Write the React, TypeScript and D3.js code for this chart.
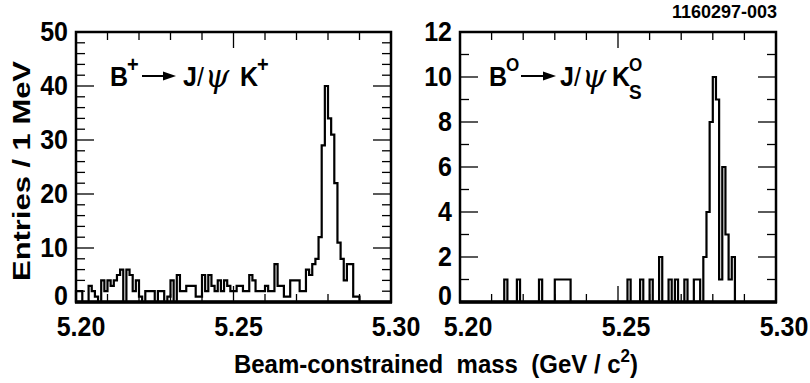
import * as d3 from "d3";

// 1 MeV bins from 5.200 to 5.300 GeV
const massRange = [5.2, 5.3];
const binWidth = 0.001;

// B+ -> J/psi K+ : entries per bin
const chargedCounts = [
  2, 2, 0, 0, 3, 2, 1, 0, 4, 2,
  4, 3, 4, 5, 6, 0, 6, 5, 2, 4,
  1, 0, 2, 2, 2, 0, 2, 2, 0, 1,
  4, 0, 5, 2, 2, 3, 3, 3, 1, 1,
  5, 2, 5, 3, 2, 4, 2, 4, 3, 2,
  2, 3, 3, 2, 2, 5, 4, 2, 2, 2,
  3, 2, 2, 7, 3, 3, 1, 1, 4, 4,
  4, 2, 2, 6, 5, 7, 8, 12, 29, 40,
  34, 31, 22, 11, 8, 4, 7, 7, 1, 1,
  0, 0, 0, 0, 0, 0, 0, 0, 0, 0,
];

// B0 -> J/psi K0S : entries per bin
const neutralCounts = [
  0, 0, 0, 0, 0, 0, 0, 0, 0, 0,
  0, 0, 0, 0, 1, 0, 0, 0, 1, 0,
  0, 0, 0, 0, 0, 1, 0, 0, 0, 0,
  1, 1, 1, 1, 1, 0, 0, 0, 0, 0,
  0, 0, 0, 0, 0, 0, 0, 0, 0, 0,
  0, 0, 0, 1, 0, 0, 0, 1, 0, 0,
  1, 0, 0, 2, 0, 0, 1, 0, 1, 0,
  0, 1, 0, 0, 1, 1, 0, 2, 4, 8,
  10, 9, 1, 6, 3, 1, 2, 0, 0, 0,
  0, 0, 0, 0, 0, 0, 0, 0, 0, 0,
];

const xTickLabels = ["5.20", "5.25", "5.30"];
const leftYTicks = [0, 10, 20, 30, 40, 50];
const rightYTicks = [0, 2, 4, 6, 8, 10, 12];

const FONT = "'Liberation Sans', Arial, Helvetica, sans-serif";

// bold text, slightly stretched vertically like the scanned original
function T({ x, y, size = 25, anchor = "start", sy = 1.1, children, ...rest }) {
  return (
    <text transform={`translate(${x},${y}) scale(1,${sy})`} textAnchor={anchor}
      fontFamily={FONT} fontWeight="bold" fontSize={size} {...rest}>{children}</text>
  );
}

function Panel({ counts, x0, x1, yMax, yMajor, yMinor, labelRight, labelShift }) {
  const top = 32;
  const bottom = 302;
  const x = d3.scaleLinear().domain(massRange).range([x0, x1]);
  const y = d3.scaleLinear().domain([0, yMax]).range([bottom, top]);

  // step outline of the histogram
  const pts = [[massRange[0], 0]];
  counts.forEach((c, i) => pts.push([massRange[0] + i * binWidth, c]));
  pts.push([massRange[1], 0]);
  const line = d3.line()
    .x(d => x(d[0]))
    .y(d => y(d[1]))
    .curve(d3.curveStepAfter);

  const xMinor = d3.range(0, 11).map(i => 5.2 + i * 0.01);
  const yTicks = d3.range(0, yMax + 0.001, yMinor);

  return (
    <g>
      <path d={line(pts)} fill="none" stroke="#000" strokeWidth={2.2} />
      {xMinor.map((t, i) => {
        const len = i % 5 === 0 ? 16 : 8;
        return (
          <g key={"xt" + i}>
            <line x1={x(t)} x2={x(t)} y1={bottom} y2={bottom - len} stroke="#000" strokeWidth={1.3} />
            <line x1={x(t)} x2={x(t)} y1={top} y2={top + len} stroke="#000" strokeWidth={1.3} />
          </g>
        );
      })}
      {yTicks.map((t, i) => {
        const major = Math.abs(t / yMajor - Math.round(t / yMajor)) < 1e-6;
        const len = major ? 18 : 9;
        return (
          <g key={"yt" + i}>
            <line x1={x0} x2={x0 + len} y1={y(t)} y2={y(t)} stroke="#000" strokeWidth={1.3} />
            <line x1={x1} x2={x1 - len} y1={y(t)} y2={y(t)} stroke="#000" strokeWidth={1.3} />
          </g>
        );
      })}
      <rect x={x0} y={top} width={x1 - x0} height={bottom - top} fill="none" stroke="#000" strokeWidth={2.5} />
      <line x1={x0 - 1} x2={x1 + 1} y1={bottom} y2={bottom} stroke="#000" strokeWidth={3.5} />
      {labelRight.map(t => (
        <T key={"yl" + t} x={x0 - 8} y={y(t) + (t === 0 ? 3 : 9)} anchor="end">{t}</T>
      ))}
      {xTickLabels.map(s => (
        <T key={"xl" + s} x={x(+s) + labelShift} y={336} anchor="middle">{s}</T>
      ))}
    </g>
  );
}

function Arrow({ xa, xb, yy }) {
  return (
    <g>
      <line x1={xa} x2={xb - 10} y1={yy} y2={yy} stroke="#000" strokeWidth={2} />
      <path d={`M${xb},${yy} L${xb - 13},${yy - 4.5} L${xb - 13},${yy + 4.5} Z`} fill="#000" />
    </g>
  );
}

export default function App() {
  const psi = { fontFamily: "'DejaVu Serif', 'Liberation Serif', serif", fontStyle: "italic" as const, fontSize: 31 };
  return (
    <svg width={810} height={383} style={{ position: "absolute", left: 0, top: 0, background: "#fff" }}>
      <rect width={810} height={383} fill="#fff" />
      <Panel counts={chargedCounts} x0={76} x1={391} yMax={50} yMajor={10} yMinor={2}
        labelRight={leftYTicks} labelShift={5} />
      <Panel counts={neutralCounts} x0={460} x1={776} yMax={12} yMajor={2} yMinor={1}
        labelRight={rightYTicks} labelShift={8} />

      {/* B+ -> J/psi K+ */}
      <T x={110} y={86} size={25}>B</T>
      <T x={127} y={72} size={20}>+</T>
      <Arrow xa={142} xb={176} yy={76} />
      <T x={183} y={86} size={25}>J</T>
      <text x={197} y={86} fontSize={25} fontFamily={FONT}>/</text>
      <text x={205} y={87} {...psi}>ψ</text>
      <T x={240} y={86} size={25}>K</T>
      <T x={257} y={72} size={20}>+</T>

      {/* B0 -> J/psi K0S */}
      <T x={489} y={86} size={25}>B</T>
      <T x={506} y={71} size={17}>O</T>
      <Arrow xa={521} xb={556} yy={76} />
      <T x={560} y={86} size={25}>J</T>
      <text x={574} y={86} fontSize={25} fontFamily={FONT}>/</text>
      <text x={582} y={87} {...psi}>ψ</text>
      <T x={612} y={86} size={25}>K</T>
      <T x={629} y={71} size={17}>O</T>
      <T x={629} y={99} size={19}>S</T>

      <T x={777} y={18} size={18} anchor="end" sy={1}>1160297-003</T>

      <text transform="translate(30,171) rotate(-90)" textAnchor="middle" fontSize={24}
        fontFamily={FONT} fontWeight="bold" textLength={220} lengthAdjust="spacingAndGlyphs">Entries / 1 MeV</text>
      <text transform="translate(436,373) scale(1,1.1)" textAnchor="middle" fontSize={24}
        fontFamily={FONT} fontWeight="bold" xmlSpace="preserve">
        Beam-constrained  mass  (GeV / c
        <tspan dy={-10} fontSize={17}>2</tspan>
        <tspan dy={10}>)</tspan>
      </text>
    </svg>
  );
}
